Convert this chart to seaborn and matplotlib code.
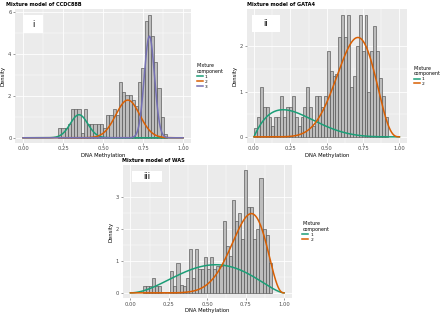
import numpy as np
import pandas as pd
import matplotlib
matplotlib.use("Agg")
import matplotlib.pyplot as plt
import seaborn as sns
from matplotlib.patches import Rectangle

# histogram bar heights (density), bin width 0.02, first left edge given
binwidth = 0.02

ccdc_start = 0.22
ccdc_dens = [0.45, 0.45, 0.45, 0.65, 1.35, 1.35, 1.35, 0.25, 1.35, 0.65,
             0.65, 0.65, 0.65, 0.65, 0.45, 1.1, 1.1, 1.35, 1.1, 2.65,
             2.2, 2.05, 2.05, 1.8, 1.5, 2.65, 3.35, 5.6, 5.85, 4.85,
             3.6, 2.4, 1.0, 0.2]

gata_start = 0.00
gata_dens = [0.2, 0.45, 1.1, 0.65, 0.65, 0.45, 0.25, 0.45, 0.45, 0.9,
             0.45, 0.65, 0.65, 0.9, 0.45, 0.25, 0.45, 0.65, 1.1, 0.65,
             0.25, 0.9, 0.9, 0.65, 0.9, 1.9, 1.45, 1.35, 1.4, 2.2,
             2.7, 2.2, 2.7, 1.1, 1.35, 2.0, 2.7, 1.9, 2.7, 1.0,
             1.9, 2.45, 1.9, 1.3, 0.9, 0.45]

was_start = 0.08
was_dens = [0.23, 0.23, 0.23, 0.48, 0.23, 0.23, 0.0, 0.0, 0.0, 0.69,
            0.23, 0.92, 0.25, 0.23, 0.48, 1.38, 0.48, 1.38, 0.74, 0.74,
            1.13, 0.74, 1.13, 0.74, 0.84, 0.84, 2.26, 1.46, 1.15, 2.92,
            2.26, 2.49, 1.67, 3.83, 2.7, 2.7, 1.67, 2.0, 3.6, 2.0,
            1.8, 0.94]

# mixture components: (param1, param2, peak height)
ccdc_mean = [0.35, 0.655, 0.79]      # normal components
ccdc_sd = [0.055, 0.075, 0.032]
ccdc_peak = [1.1, 1.8, 4.85]

gata_a = [2.0, 9.0]                  # beta components
gata_b = [5.0, 4.2]
gata_peak = [0.6, 2.2]

was_a = [3.0, 11.0]
was_b = [2.6, 3.7]
was_peak = [0.88, 2.48]

colors = ["#1B9E77", "#D95F02", "#7570B3"]

W, H = 440, 315
fig = plt.figure(figsize=(4.4, 3.15), dpi=100)


def px_rect(x0, y0, x1, y1):
    return [x0 / W, 1 - y1 / H, (x1 - x0) / W, (y1 - y0) / H]


def panel(rect, start, dens, p1, p2, peaks, kind, title, title_xy, tag, tagbox,
          ylim, yticks, leg_x):
    ax = fig.add_axes(rect)
    ax.set_facecolor("#EBEBEB")
    n = len(dens)
    centers = start + binwidth * (np.arange(n) + 0.5)
    hist_df = pd.DataFrame({"x": centers, "w": dens})
    sns.histplot(data=hist_df, x="x", weights="w", bins=n,
                 binrange=(start, start + n * binwidth), stat="count",
                 color="#BDBDBD", edgecolor="#505050", linewidth=0.45,
                 alpha=1, ax=ax)
    xs = np.linspace(0, 1, 401)
    frames = []
    for i, (a, b, pk) in enumerate(zip(p1, p2, peaks)):
        if kind == "normal":
            shape = np.exp(-0.5 * ((xs - a) / b) ** 2)
        else:
            shape = xs ** (a - 1) * (1 - xs) ** (b - 1)
        frames.append(pd.DataFrame({"x": xs, "y": pk * shape / shape.max(),
                                    "component": str(i + 1)}))
    sns.lineplot(data=pd.concat(frames), x="x", y="y", hue="component",
                 palette=colors[:len(peaks)], linewidth=1.1, ax=ax)

    ax.set_xlim(-0.05, 1.05)
    ax.set_ylim(*ylim)
    ax.set_xticks([0, 0.25, 0.5, 0.75, 1.0])
    ax.set_xticklabels(["0.00", "0.25", "0.50", "0.75", "1.00"])
    ax.set_xticks([0.125, 0.375, 0.625, 0.875], minor=True)
    ax.set_yticks(yticks)
    ax.set_yticks([t + (yticks[1] - yticks[0]) / 2 for t in yticks[:-1]], minor=True)
    ax.set_axisbelow(True)
    ax.grid(which="major", color="white", linewidth=0.6)
    ax.grid(which="minor", color="white", linewidth=0.3)
    ax.tick_params(which="major", labelsize=3.8, colors="#4D4D4D", length=1.5,
                   width=0.4, pad=1)
    ax.tick_params(which="minor", length=0)
    for s in ax.spines.values():
        s.set_visible(False)
    ax.set_xlabel("DNA Methylation", fontsize=3.8, labelpad=1)
    ax.set_ylabel("Density", fontsize=3.8, labelpad=2)

    sns.move_legend(ax, "center left", bbox_to_anchor=(leg_x, 0.5),
                    title="Mixture\ncomponent", frameon=False, fontsize=3.2,
                    title_fontsize=3.4, handlelength=1.3, labelspacing=0.15,
                    handletextpad=0.5, alignment="left")

    x0, y0, w, h = tagbox
    ax.add_patch(Rectangle((x0, y0), w, h, transform=ax.transAxes,
                           facecolor="white", edgecolor="none", zorder=5))
    ax.text(x0 + w / 2, y0 + h / 2, tag, transform=ax.transAxes, ha="center",
            va="center", fontsize=6, zorder=6)
    fig.text(title_xy[0] / W, 1 - title_xy[1] / H, title, fontsize=3.6,
             fontweight="bold", ha="left", va="center")
    return ax


panel(px_rect(15, 9, 191, 143), ccdc_start, ccdc_dens, ccdc_mean, ccdc_sd,
      ccdc_peak, "normal", "Mixture model of CCDC88B", (6, 5), "i",
      (0.044, 0.82, 0.117, 0.135), (-0.25, 6.15), [0, 2, 4, 6], 1.01)

panel(px_rect(246.7, 9, 406.7, 142.7), gata_start, gata_dens, gata_a, gata_b,
      gata_peak, "beta", "Mixture model of GATA4", (246.7, 5), "ii",
      (0.031, 0.826, 0.177, 0.129), (-0.13, 2.83), [0, 1, 2], 1.02)

panel(px_rect(122.7, 165, 291.7, 298.3), was_start, was_dens, was_a, was_b,
      was_peak, "beta", "Mixture model of WAS", (121.7, 160), "iii",
      (0.053, 0.87, 0.178, 0.087), (-0.17, 4.0), [0, 1, 2, 3], 1.04)

fig.savefig("out.png", dpi=100)
